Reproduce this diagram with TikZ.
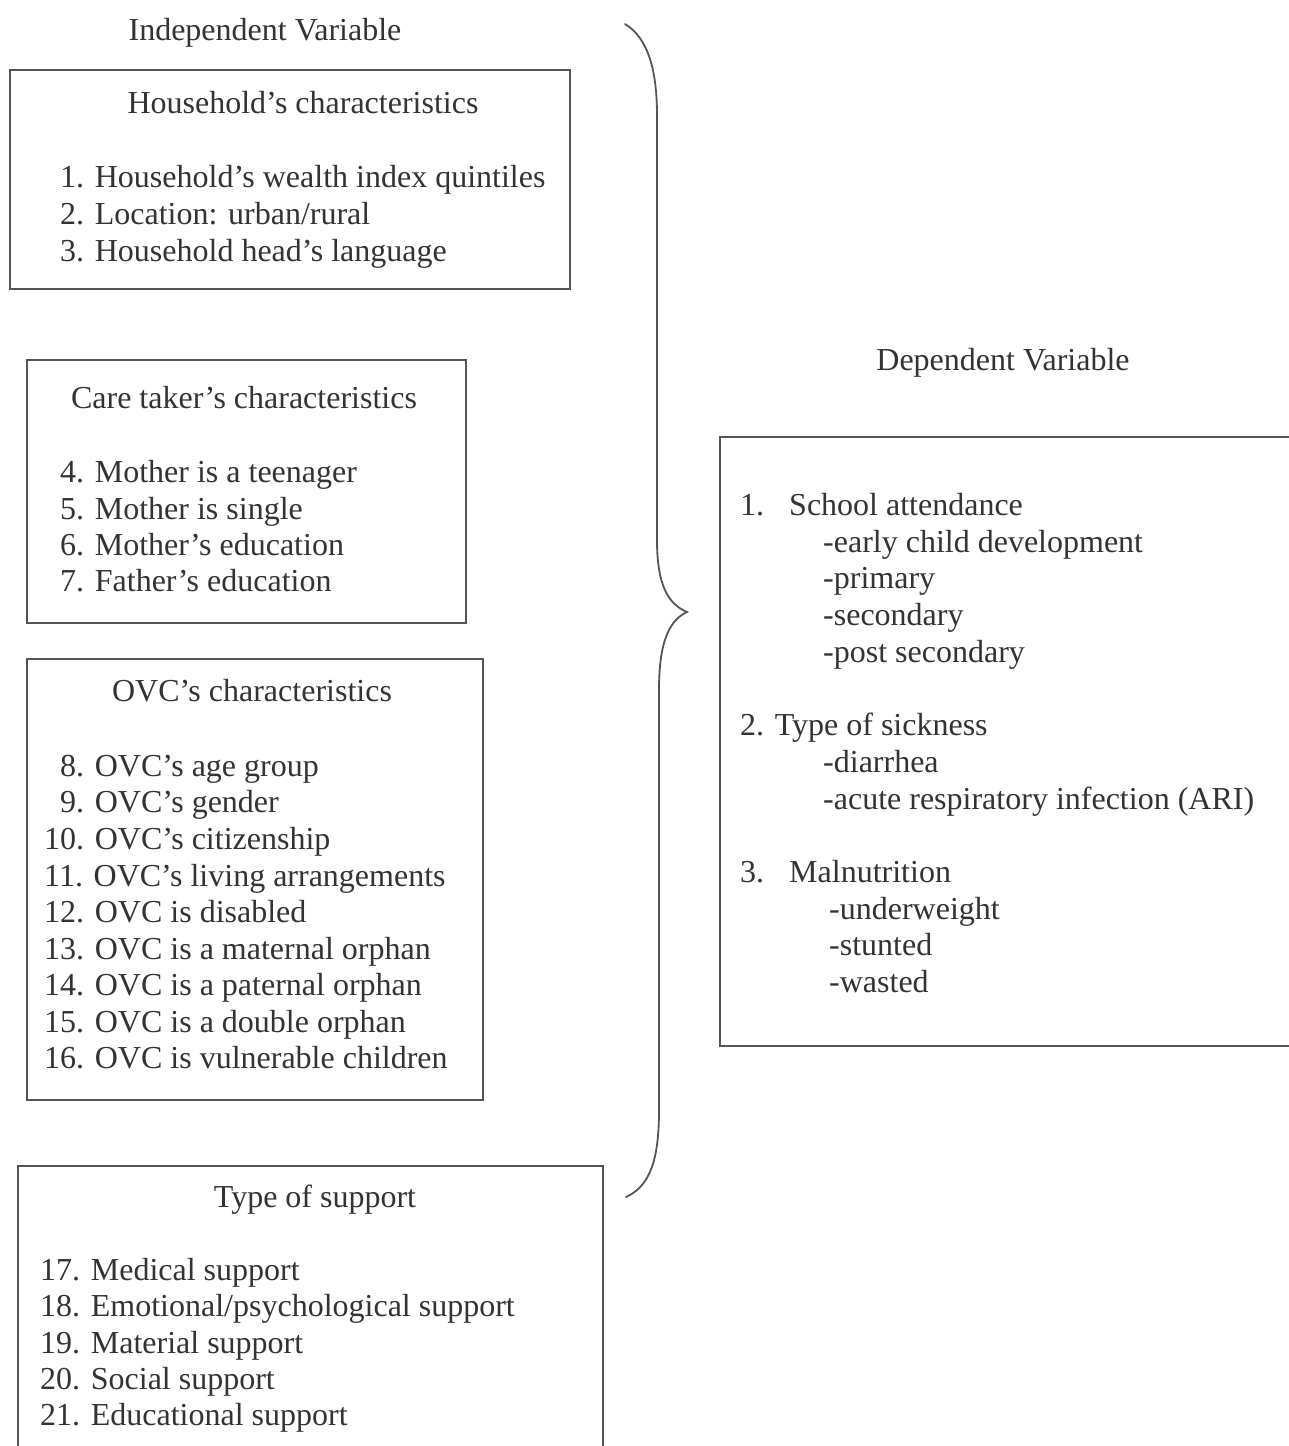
\documentclass[tikz,border=0pt]{standalone}
\usepackage{fontspec}
\setmainfont{Liberation Serif}
\definecolor{ink}{HTML}{333333}
\definecolor{rule}{HTML}{555555}
\begin{document}
\begin{tikzpicture}[x=1pt,y=-1pt,
  txt/.style={anchor=base west,inner sep=0pt,text=ink,font=\fontsize{32}{37}\selectfont},
  ttl/.style={anchor=base,inner sep=0pt,text=ink,font=\fontsize{32}{37}\selectfont},
  frame/.style={draw=rule,line width=1.5pt},
  bracestyle/.style={draw=rule,line width=1.8pt,line cap=round}]
\useasboundingbox (0,0) rectangle (1289,1446);
\fill[white] (0,0) rectangle (1289,1446);

% headings
\node[ttl] (indep) at (265,40) {Independent Variable};
\node[ttl] (dep) at (1003,370) {Dependent Variable};

% box 1
\draw[frame] (10,70) rectangle (570,289);
\node[ttl] (t1) at (303,113) {Household’s characteristics};
\node[txt] (i1) at (60,187) {1. Household’s wealth index quintiles};
\node[txt] (i2) at (60,224) {2. Location: urban/rural};
\node[txt] (i3) at (60,261) {3. Household head’s language};

% box 2
\draw[frame] (27,360) rectangle (466,623);
\node[ttl] (t2) at (244,408) {Care taker’s characteristics};
\node[txt] (i4) at (60,482) {4. Mother is a teenager};
\node[txt] (i5) at (60,519) {5. Mother is single};
\node[txt] (i6) at (60,555) {6. Mother’s education};
\node[txt] (i7) at (60,591) {7. Father’s education};

% box 3
\draw[frame] (27,659) rectangle (483,1100);
\node[ttl] (t3) at (252,701) {OVC’s characteristics};
\node[txt] (i8) at (60,776) {8. OVC’s age group};
\node[txt] (i9) at (60,812) {9. OVC’s gender};
\node[txt] (i10) at (44,849) {10. OVC’s citizenship};
\node[txt] (i11) at (44,886) {11. OVC’s living arrangements};
\node[txt] (i12) at (44,922) {12. OVC is disabled};
\node[txt] (i13) at (44,959) {13. OVC is a maternal orphan};
\node[txt] (i14) at (44,995) {14. OVC is a paternal orphan};
\node[txt] (i15) at (44,1032) {15. OVC is a double orphan};
\node[txt] (i16) at (44,1068) {16. OVC is vulnerable children};

% box 4 (bottom edge outside the picture)
\draw[frame] (18,1450) -- (18,1166) -- (603,1166) -- (603,1450);
\node[ttl] (t4) at (315,1207) {Type of support};
\node[txt] (i17) at (40,1280) {17. Medical support};
\node[txt] (i18) at (40,1316) {18. Emotional/psychological support};
\node[txt] (i19) at (40,1353) {19. Material support};
\node[txt] (i20) at (40,1389) {20. Social support};
\node[txt] (i21) at (40,1425) {21. Educational support};

% dependent box (right edge outside the picture)
\draw[frame] (1295,437) -- (720,437) -- (720,1046) -- (1295,1046);
\node[txt] (d1n) at (740,515) {1.};
\node[txt] (d1) at (789,515) {School attendance};
\node[txt] (d1a) at (823,552) {-early child development};
\node[txt] (d1b) at (823,588) {-primary};
\node[txt] (d1c) at (823,625) {-secondary};
\node[txt] (d1d) at (823,662) {-post secondary};
\node[txt] (d2) at (740,735) {2. Type of sickness};
\node[txt] (d2a) at (823,772) {-diarrhea};
\node[txt] (d2b) at (823,809) {-acute respiratory infection (ARI)};
\node[txt] (d3n) at (740,882) {3.};
\node[txt] (d3) at (789,882) {Malnutrition};
\node[txt] (d3a) at (829,919) {-underweight};
\node[txt] (d3b) at (829,955) {-stunted};
\node[txt] (d3c) at (829,992) {-wasted};

% brace
\coordinate (btop) at (625,24);
\coordinate (btip) at (687,612);
\coordinate (bbot) at (626,1197);
\draw[bracestyle] (btop) .. controls (648,38) and (657,70) .. (657,115)
  -- (657,540) .. controls (657,585) and (668,604) .. (btip)
  .. controls (670,620) and (659,640) .. (659,690)
  -- (659,1110) .. controls (659,1160) and (650,1186) .. (bbot);
\end{tikzpicture}
\end{document}
